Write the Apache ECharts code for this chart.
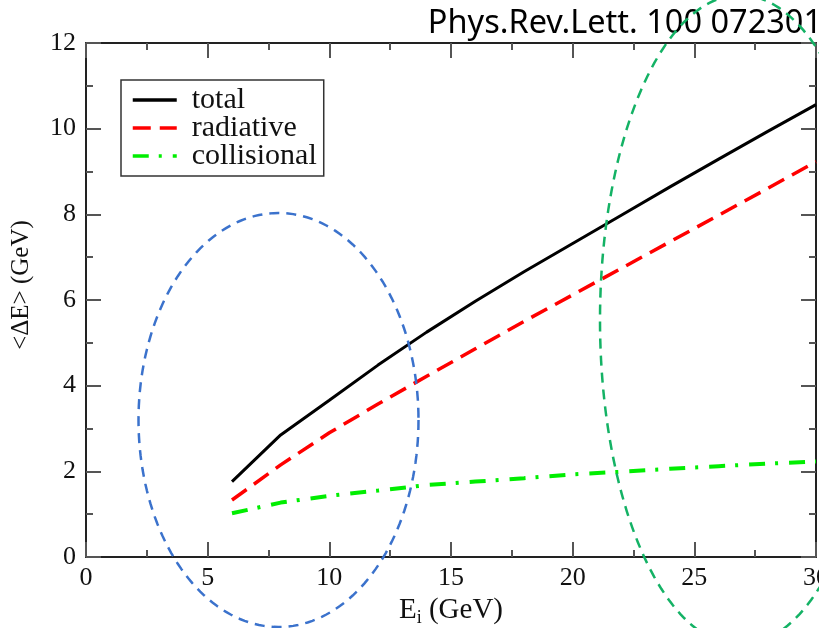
<!DOCTYPE html>
<html>
<head>
<meta charset="utf-8">
<script src="https://cdn.jsdelivr.net/npm/echarts@6/dist/echarts.min.js"></script>
<style>
  html, body { margin: 0; padding: 0; background: #fff; }
  #chart { width: 819px; height: 628px; }
</style>
</head>
<body>
<div id="chart"></div>
<script>
// Initial jet energy E_i (GeV)
const energies = [6, 8, 10, 12, 14, 16, 18, 20, 22, 24, 26, 28, 30];
// Mean energy loss <ΔE> (GeV)
const totalLoss       = [1.76, 2.85, 3.66, 4.48, 5.25, 5.97, 6.66, 7.32, 7.98, 8.64, 9.29, 9.93, 10.56];
const radiativeLoss   = [1.33, 2.15, 2.90, 3.57, 4.22, 4.86, 5.50, 6.12, 6.74, 7.36, 7.98, 8.60, 9.23];
const collisionalLoss = [1.02, 1.27, 1.43, 1.55, 1.68, 1.76, 1.84, 1.93, 1.99, 2.06, 2.12, 2.18, 2.23];

const seriesNames = ['total', 'radiative', 'collisional'];
const citation = 'Phys.Rev.Lett. 100 072301';

const pairs = ys => energies.map((x, i) => [x, ys[i]]);

// Closed outline for the dashed highlight ellipses
function ellipsePoints(cx, cy, rx, ry, n) {
  const pts = [];
  for (let k = 0; k < n; k++) {
    const t = (2 * Math.PI * k) / n;
    pts.push([cx + rx * Math.cos(t), cy + ry * Math.sin(t)]);
  }
  return pts;
}

const serif = 'Liberation Serif, Times New Roman, serif';
const axisColor = '#222';

const styles = {
  total:       { color: '#000000', width: 3,   type: 'solid' },
  radiative:   { color: '#ff0000', width: 3.5, type: [18, 9] },
  collisional: { color: '#00ee00', width: 4,   type: [16, 10, 3, 11] }
};

const chart = echarts.init(document.getElementById('chart'), null, { renderer: 'canvas' });

const baseX = {
  type: 'value', min: 0, max: 30, interval: 5,
  axisLine: { show: true, onZero: false, lineStyle: { color: axisColor, width: 2 } },
  axisTick: { show: true, inside: true, length: 15, lineStyle: { color: '#555', width: 2 } },
  minorTick: { show: true, splitNumber: 2, length: 7, lineStyle: { color: '#555', width: 2 } },
  splitLine: { show: false }
};
const baseY = {
  type: 'value', min: 0, max: 12, interval: 2,
  axisLine: { show: true, onZero: false, lineStyle: { color: axisColor, width: 2 } },
  axisTick: { show: true, inside: true, length: 15, lineStyle: { color: '#555', width: 2 } },
  minorTick: { show: true, splitNumber: 2, length: 7, lineStyle: { color: '#555', width: 2 } },
  splitLine: { show: false }
};

chart.setOption({
  backgroundColor: '#fff',
  animation: false,
  title: {
    text: citation,
    right: -3, top: 7, padding: 0,
    textStyle: { fontFamily: 'Noto Sans', fontSize: 32.5, fontWeight: 'normal', color: '#000' }
  },
  grid: { left: 86, right: 3, top: 43, bottom: 71, outerBoundsMode: 'none', containLabel: false },
  legend: {
    data: seriesNames.map(n => ({
      name: n,
      lineStyle: { color: styles[n].color, width: 3.5, type: styles[n].type },
      itemStyle: { color: 'rgba(0,0,0,0)', borderWidth: 0 }
    })),
    orient: 'vertical',
    left: 121, top: 80,
    padding: [5, 7, 5, 10],
    borderColor: '#333', borderWidth: 1.5,
    itemWidth: 44, itemHeight: 14, itemGap: -2,
    textStyle: { fontFamily: serif, fontSize: 30, color: '#111', padding: [0, 0, 0, 10] }
  },
  xAxis: [
    Object.assign({}, baseX, {
      position: 'bottom',
      axisLabel: { fontFamily: serif, fontSize: 26, color: '#111', margin: 8 },
      name: '{e|E}{sub|i}{e| (GeV)}',
      nameLocation: 'middle', nameGap: 34,
      nameTextStyle: {
        rich: {
          e: { fontFamily: serif, fontSize: 29, color: '#111' },
          sub: { fontFamily: serif, fontSize: 18, color: '#111', verticalAlign: 'bottom', padding: [16, 0, 0, 0] }
        }
      }
    }),
    Object.assign({}, baseX, { position: 'top', axisLabel: { show: false } })
  ],
  yAxis: [
    Object.assign({}, baseY, {
      position: 'left',
      axisLabel: { fontFamily: serif, fontSize: 26, color: '#111', margin: 10 },
      name: '<ΔE> (GeV)',
      nameLocation: 'middle', nameGap: 52, nameRotate: 90,
      nameTextStyle: { fontFamily: serif, fontSize: 25, color: '#111', padding: [0, 0, 0, 30] }
    }),
    Object.assign({}, baseY, { position: 'right', axisLabel: { show: false } })
  ],
  series: [
    {
      name: seriesNames[0], type: 'line', data: pairs(totalLoss),
      symbol: 'none', smooth: false, z: 3,
      lineStyle: styles.total, itemStyle: { color: styles.total.color }
    },
    {
      name: seriesNames[1], type: 'line', data: pairs(radiativeLoss),
      symbol: 'none', smooth: false, z: 3,
      lineStyle: styles.radiative, itemStyle: { color: styles.radiative.color }
    },
    {
      name: seriesNames[2], type: 'line', data: pairs(collisionalLoss),
      symbol: 'none', smooth: false, z: 3,
      lineStyle: styles.collisional, itemStyle: { color: styles.collisional.color }
    }
  ],
  graphic: [
    {
      type: 'polygon', z: 100, silent: true,
      shape: { points: ellipsePoints(278.5, 420, 140, 207, 180) },
      style: { fill: 'none', stroke: '#3b72cc', lineWidth: 2.5, lineDash: [10, 7] }
    },
    {
      type: 'polygon', z: 100, silent: true,
      shape: { points: ellipsePoints(740, 320, 140, 325, 200) },
      style: { fill: 'none', stroke: '#14b265', lineWidth: 2.5, lineDash: [10, 7] }
    }
  ]
});
</script>
</body>
</html>
